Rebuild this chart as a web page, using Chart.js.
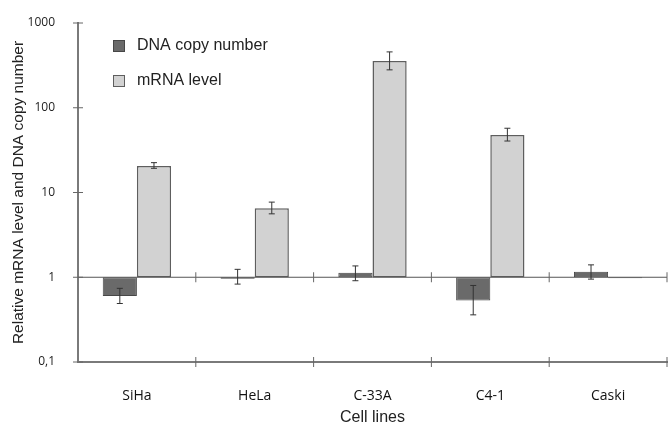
<!DOCTYPE html>
<html lang="en">
<head>
    <meta charset="UTF-8">
    <title>mRNA level and DNA copy number</title>
    <script src="https://cdn.jsdelivr.net/npm/chart.js"></script>
    <style>
        html, body { margin: 0; padding: 0; background: #fff; }
        #wrap { width: 669px; height: 425px; }
    </style>
</head>
<body>
    <div id="wrap"><canvas id="cellChart"></canvas></div>

    <script>
        // values (log axis, bars start at 1)
        const cellLines = ['SiHa', 'HeLa', 'C-33A', 'C4-1', 'Caski'];
        const dnaCopy = [0.60, 0.96, 1.13, 0.53, 1.16];
        const dnaErrLow = [0.49, 0.83, 0.91, 0.36, 0.95];
        const dnaErrHigh = [0.74, 1.24, 1.36, 0.80, 1.40];
        const mrnaLevel = [20.6, 6.5, 357, 47.8, 0.97];
        const mrnaErrLow = [19.3, 5.6, 280, 40.5, null];
        const mrnaErrHigh = [22.5, 7.7, 456, 57.3, null];
        const yTicks = [0.1, 1, 10, 100, 1000];
        const yTickLabels = ['0,1', '1', '10', '100', '1000'];
        const baseValue = 1;

        const errLow = [dnaErrLow, mrnaErrLow];
        const errHigh = [dnaErrHigh, mrnaErrHigh];

        // line at 1, crossing ticks, error bars and legend
        const extras = {
            id: 'extras',
            afterDatasetsDraw(chart) {
                const {ctx, chartArea, scales: {x, y}} = chart;
                const yBase = y.getPixelForValue(baseValue);
                const yBottom = chartArea.bottom;

                ctx.save();
                ctx.strokeStyle = '#555';
                ctx.lineWidth = 1;
                ctx.beginPath();
                ctx.moveTo(chartArea.left, yBase);
                ctx.lineTo(chartArea.right, yBase);
                ctx.stroke();

                // category boundary ticks on both horizontal lines
                const bounds = [];
                for (let i = 0; i < cellLines.length - 1; i++) {
                    bounds.push((x.getPixelForValue(i) + x.getPixelForValue(i + 1)) / 2);
                }
                bounds.push(chartArea.right);
                ctx.strokeStyle = '#666';
                ctx.beginPath();
                bounds.forEach(bx => {
                    ctx.moveTo(bx, yBase - 5); ctx.lineTo(bx, yBase + 5);
                    ctx.moveTo(bx, yBottom - 5); ctx.lineTo(bx, yBottom + 5);
                });
                // y ticks crossing the axis
                yTicks.forEach(v => {
                    const py = y.getPixelForValue(v);
                    ctx.moveTo(chartArea.left - 5, py); ctx.lineTo(chartArea.left + 5, py);
                });
                ctx.stroke();

                // error bars
                ctx.strokeStyle = '#333';
                chart.data.datasets.forEach((ds, di) => {
                    const meta = chart.getDatasetMeta(di);
                    meta.data.forEach((bar, i) => {
                        const lo = errLow[di][i], hi = errHigh[di][i];
                        if (lo == null || hi == null) return;
                        const yl = y.getPixelForValue(lo), yh = y.getPixelForValue(hi);
                        ctx.beginPath();
                        ctx.moveTo(bar.x, yl); ctx.lineTo(bar.x, yh);
                        ctx.moveTo(bar.x - 3, yl); ctx.lineTo(bar.x + 3, yl);
                        ctx.moveTo(bar.x - 3, yh); ctx.lineTo(bar.x + 3, yh);
                        ctx.stroke();
                    });
                });

                // legend inside the plot
                ctx.font = '16px "Liberation Sans", Arial, sans-serif';
                ctx.textBaseline = 'middle';
                chart.data.datasets.forEach((ds, di) => {
                    const lx = chartArea.left + 35, ly = chartArea.top + 17 + di * 35;
                    ctx.fillStyle = ds.backgroundColor;
                    ctx.fillRect(lx, ly, 11, 11);
                    ctx.strokeStyle = ds.borderColor;
                    ctx.strokeRect(lx + 0.5, ly + 0.5, 11, 11);
                    ctx.fillStyle = '#222';
                    ctx.fillText(ds.label, lx + 24, ly + 6);
                });
                ctx.restore();
            }
        };

        Chart.defaults.font.family = '"Liberation Sans", Arial, sans-serif';
        Chart.defaults.color = '#222';

        new Chart(document.getElementById('cellChart'), {
            type: 'bar',
            data: {
                labels: cellLines,
                datasets: [{
                    label: 'DNA copy number',
                    data: dnaCopy.map(v => [baseValue, v]),
                    backgroundColor: '#6a6a6a',
                    borderColor: '#474747',
                    borderWidth: 1,
                    borderSkipped: false
                }, {
                    label: 'mRNA level',
                    data: mrnaLevel.map(v => [baseValue, v]),
                    backgroundColor: '#d2d2d2',
                    borderColor: '#5e5e5e',
                    borderWidth: 1.5,
                    borderSkipped: false
                }]
            },
            options: {
                responsive: true,
                maintainAspectRatio: false,
                animation: false,
                categoryPercentage: 0.58,
                barPercentage: 1.0,
                layout: { padding: { top: 23, right: 2, left: 0, bottom: 0 } },
                plugins: {
                    legend: { display: false },
                    tooltip: { enabled: false }
                },
                scales: {
                    x: {
                        offset: true,
                        grid: { display: false },
                        border: { display: true, color: '#7a7a7a', width: 2 },
                        ticks: {
                            padding: 18,
                            color: '#111',
                            font: { family: '"Open Sans", sans-serif', size: 14 }
                        },
                        title: {
                            display: true,
                            text: 'Cell lines',
                            color: '#222',
                            font: { size: 16 },
                            padding: { top: 0, bottom: -2 }
                        },
                        afterFit(scale) { scale.height = 63; }
                    },
                    y: {
                        type: 'logarithmic',
                        min: 0.1,
                        max: 1000,
                        grid: { display: false },
                        border: { display: true, color: '#7a7a7a', width: 2 },
                        afterBuildTicks(scale) {
                            scale.ticks = yTicks.map(v => ({ value: v }));
                        },
                        ticks: {
                            padding: 15,
                            color: '#222',
                            font: { family: '"Open Sans", sans-serif', size: 12 },
                            callback: (value) => {
                                const i = yTicks.indexOf(value);
                                return i >= 0 ? yTickLabels[i] : '';
                            }
                        },
                        title: {
                            display: true,
                            text: 'Relative mRNA level and DNA copy number',
                            color: '#222',
                            font: { size: 15.5 },
                            padding: { top: 9, bottom: 0 }
                        },
                        afterFit(scale) { scale.width = 78; }
                    }
                }
            },
            plugins: [extras]
        });
    </script>
</body>
</html>
